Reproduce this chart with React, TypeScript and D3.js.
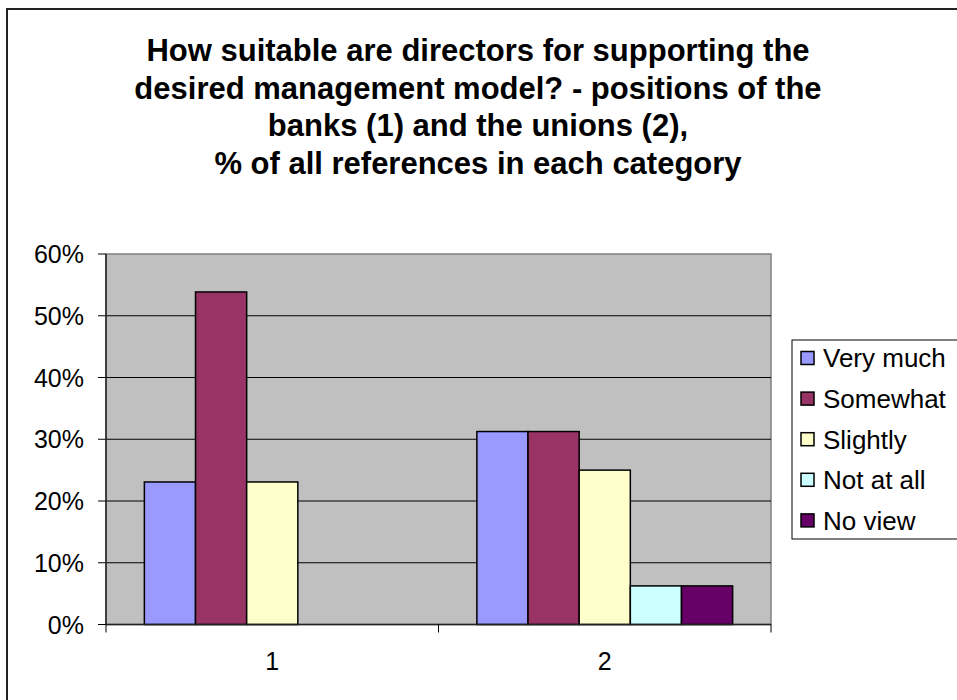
import React from "react";
import * as d3 from "d3";

const categories = ["1", "2"];
const seriesNames = ["Very much", "Somewhat", "Slightly", "Not at all", "No view"];
const seriesColors = ["#9999FF", "#993366", "#FFFFCC", "#CCFFFF", "#660066"];
const group1Values = [0.2308, 0.5385, 0.2308, 0, 0];
const group2Values = [0.3125, 0.3125, 0.25, 0.0625, 0.0625];
const yTicks = [0, 0.1, 0.2, 0.3, 0.4, 0.5, 0.6];
const titleLines = [
  "How suitable are directors for supporting the",
  "desired management model? - positions of the",
  "banks (1) and the unions (2),",
  "% of all references in each category",
];

const values = [group1Values, group2Values];
const FONT = "'Liberation Sans', Arial, Helvetica, sans-serif";

export default function App() {
  const W = 957, H = 700;
  const plot = { left: 106, right: 771, top: 254, bottom: 624.5 };
  const x0 = d3.scaleBand<string>().domain(categories).range([plot.left, plot.right]).padding(0);
  const x1 = d3.scaleBand<string>().domain(seriesNames).range([0, x0.bandwidth()]).paddingInner(0).paddingOuter(0.75);
  const y = d3.scaleLinear().domain([0, 0.6]).range([plot.bottom, plot.top]);
  const fmt = d3.format(".0%");
  const xTickPos = [plot.left, plot.left + x0.bandwidth(), plot.right];

  return (
    <svg width={W} height={H} style={{ position: "absolute", left: 0, top: 0, background: "#fff" }} fontFamily={FONT}>
      <rect x={0} y={0} width={W} height={H} fill="#fff" />
      {/* outer frame */}
      <rect x={7} y={9} width={W + 20} height={H + 20} fill="none" stroke="#222" strokeWidth={2} />
      {/* title */}
      {titleLines.map((t, i) => (
        <text key={i} x={478} y={61 + i * 37.7} textAnchor="middle" fontSize={31} fontWeight="bold" fill="#000">
          {t}
        </text>
      ))}
      {/* plot area */}
      <rect x={plot.left} y={plot.top} width={plot.right - plot.left} height={plot.bottom - plot.top} fill="#C0C0C0" stroke="#808080" strokeWidth={1.5} />
      {yTicks.map((t) => (
        <g key={t}>
          {t > 0 && t < 0.6 && (
            <line x1={plot.left} x2={plot.right} y1={y(t)} y2={y(t)} stroke="#000" strokeWidth={1} />
          )}
          <line x1={plot.left - 8} x2={plot.left} y1={y(t)} y2={y(t)} stroke="#000" strokeWidth={1} />
          <text x={84} y={y(t)} dy="0.36em" textAnchor="end" fontSize={25} fill="#000">
            {fmt(t)}
          </text>
        </g>
      ))}
      {/* bars */}
      {categories.map((c, ci) => (
        <g key={c} transform={`translate(${x0(c)},0)`}>
          {seriesNames.map((s, si) => {
            const v = values[ci][si];
            if (!v) return null;
            return (
              <rect
                key={s}
                x={x1(s)}
                y={y(v)}
                width={x1.bandwidth()}
                height={y(0) - y(v)}
                fill={seriesColors[si]}
                stroke="#000"
                strokeWidth={1.5}
              />
            );
          })}
        </g>
      ))}
      {/* axes */}
      <line x1={plot.left} x2={plot.left} y1={plot.top} y2={plot.bottom} stroke="#222" strokeWidth={1.5} />
      <line x1={plot.left} x2={plot.right} y1={plot.bottom} y2={plot.bottom} stroke="#222" strokeWidth={1.5} />
      {xTickPos.map((p, i) => (
        <line key={i} x1={p} x2={p} y1={plot.bottom} y2={plot.bottom + 8} stroke="#000" strokeWidth={1} />
      ))}
      {categories.map((c) => (
        <text key={c} x={(x0(c) as number) + x0.bandwidth() / 2} y={670} textAnchor="middle" fontSize={25} fill="#000">
          {c}
        </text>
      ))}
      {/* legend */}
      <rect x={792} y={340} width={200} height={199} fill="#fff" stroke="#000" strokeWidth={1} />
      {seriesNames.map((s, i) => {
        const cy = 358 + i * 40.6;
        return (
          <g key={s}>
            <rect x={801} y={cy - 6.5} width={13} height={13} fill={seriesColors[i]} stroke="#000" strokeWidth={1.5} />
            <text x={823} y={cy} dy="0.36em" fontSize={26} fill="#000">
              {s}
            </text>
          </g>
        );
      })}
    </svg>
  );
}
